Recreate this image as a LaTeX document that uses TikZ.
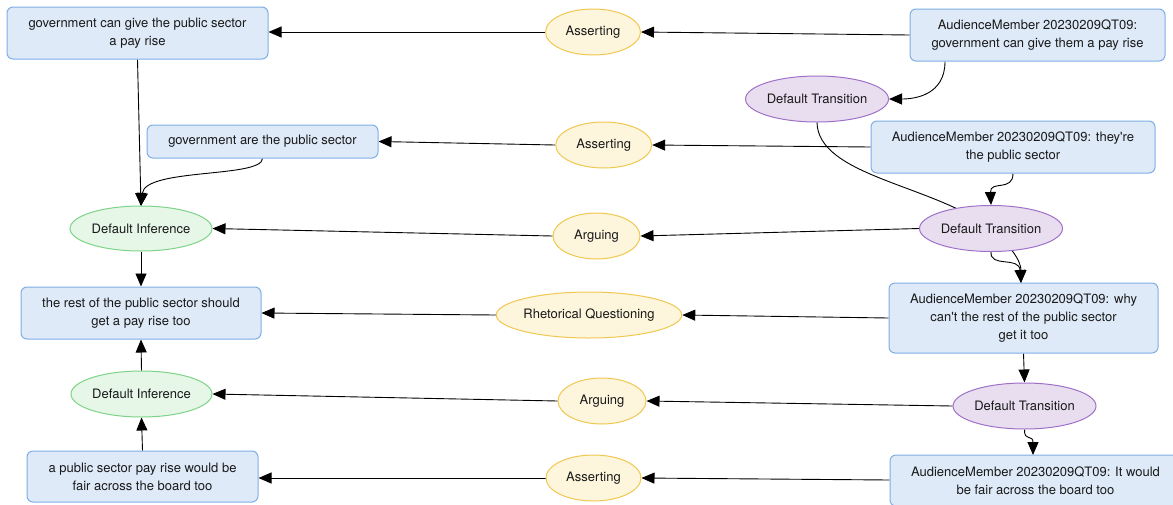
\documentclass[tikz,border=0pt]{standalone}
\usepackage{fontspec}
\setmainfont{TeX Gyre Heros}
\usetikzlibrary{shapes.geometric,arrows.meta}
\pgfdeclarelayer{bg}
\pgfsetlayers{bg,main}
\definecolor{bfill}{HTML}{DEEAF8}
\definecolor{bline}{HTML}{7EAEE5}
\definecolor{yfill}{HTML}{FDF5DC}
\definecolor{yline}{HTML}{F0C850}
\definecolor{gfill}{HTML}{E6F7E8}
\definecolor{gline}{HTML}{7DD387}
\definecolor{pfill}{HTML}{E8DEF0}
\definecolor{pline}{HTML}{A070C8}
\tikzset{
  every node/.style={font=\fontsize{13}{18}\selectfont, text=black!90, align=center, inner sep=0pt},
  ibox/.style={draw=bline, fill=bfill, rounded corners=6pt, line width=1pt, rectangle},
  ya/.style={draw=yline, fill=yfill, ellipse, line width=1pt},
  ra/.style={draw=gline, fill=gfill, ellipse, line width=1pt},
  ta/.style={draw=pline, fill=pfill, ellipse, line width=1pt},
  edge/.style={draw=black, line width=0.9pt, -{Triangle[length=13pt,width=11pt]}},
}
\begin{document}
\begin{tikzpicture}[x=1pt,y=-1pt]
\useasboundingbox (0,0) rectangle (1173,504);
\clip (0,0) rectangle (1173,504);
% I-nodes
\node[ibox, minimum width=261pt, minimum height=52pt] (I1) at (137.5,33) {government can give the public sector\\a pay rise};
\node[ibox, minimum width=231pt, minimum height=33pt] (I2) at (262.5,141.5) {government are the public sector};
\node[ibox, minimum width=240pt, minimum height=52pt] (I3) at (141,313) {the rest of the public sector should\\get a pay rise too};
\node[ibox, minimum width=231pt, minimum height=51pt] (I4) at (142.5,476.5) {a public sector pay rise would be\\fair across the board too};
% L-nodes
\node[ibox, minimum width=255pt, minimum height=52pt] (L1) at (1037.5,35) {AudienceMember 20230209QT09:\\government can give them a pay rise};
\node[ibox, minimum width=284pt, minimum height=52pt] (L2) at (1013,147) {AudienceMember 20230209QT09: they\textquotesingle re\\the public sector};
\node[ibox, minimum width=269pt, minimum height=70pt] (L3) at (1023.5,318) {AudienceMember 20230209QT09: why\\can\textquotesingle t the rest of the public sector\\get it too};
\node[ibox, minimum width=291pt, minimum height=51pt] (L4) at (1035.5,480.5) {AudienceMember 20230209QT09: It would\\be fair across the board too};
% YA nodes
\node[ya, minimum width=95pt, minimum height=46pt] (YA1) at (593,32) {Asserting};
\node[ya, minimum width=96pt, minimum height=46pt] (YA2) at (603.7,145) {Asserting};
\node[ya, minimum width=174pt, minimum height=46pt] (RQ) at (589,315) {Rhetorical Questioning};
\node[ya, minimum width=95pt, minimum height=46pt] (YA3) at (593.5,478) {Asserting};
\node[ya, minimum width=87pt, minimum height=46pt] (AR1) at (596.5,236) {Arguing};
\node[ya, minimum width=88pt, minimum height=46pt] (AR2) at (602,401) {Arguing};
% RA nodes
\node[ra, minimum width=142pt, minimum height=45pt] (DI1) at (141,228.5) {Default Inference};
\node[ra, minimum width=141pt, minimum height=46pt] (DI2) at (141.5,394) {Default Inference};
% TA nodes
\node[ta, minimum width=143pt, minimum height=46pt] (DT1) at (817,99) {Default Transition};
\node[ta, minimum width=143pt, minimum height=46pt] (DT2) at (991,228.5) {Default Transition};
\node[ta, minimum width=143pt, minimum height=46pt] (DT3) at (1024.5,406) {Default Transition};
% connector end points
\coordinate (DI1top) at (141,206);
\coordinate (L3top) at (1021,283);
\coordinate (L4top) at (1033,455);
\begin{pgfonlayer}{bg}
% top row
\draw[edge] (L1.west) -- (YA1.east);
\draw[edge] (YA1.west) -- (I1.east |- YA1.west);
\draw[edge] (L1.south -| 945,0) .. controls (945,95) and (915,99) .. (DT1.east);
\draw[edge] (DT1.south) .. controls (818,175) and (930,185) .. (985,225) .. controls (1012,245) and (1021,262) .. (L3top);
% second row
\draw[edge] (L2.west) -- (YA2.east);
\draw[edge] (YA2.west) -- (I2.east);
\draw[edge] (L2.south) .. controls (1013,192) and (990,180) .. (DT2.north);
\draw[edge] (DT2.south) .. controls (990,268) and (1019,256) .. (L3top);
\draw[edge] (I1.south -| 137.5,0) -- (DI1top);
\draw[edge] (I2.south) .. controls (262,178) and (145,168) .. (DI1top);
% third row
\draw[edge] (DT2.west) -- (AR1.east);
\draw[edge] (AR1.west) -- (DI1.east);
\draw[edge] (DI1.south) -- (I3.north);
\draw[edge] (L3.west) -- (RQ.east);
\draw[edge] (RQ.west) -- (I3.east);
% fourth row
\draw[edge] (L3.south) -- (DT3.north);
\draw[edge] (DT3.west) -- (AR2.east);
\draw[edge] (AR2.west) -- (DI2.east);
\draw[edge] (DI2.north) -- (I3.south);
\draw[edge] (I4.north) -- (DI2.south);
\draw[edge] (DT3.south) .. controls (1024,442) and (1033,434) .. (L4top);
% bottom row
\draw[edge] (L4.west |- 0,480) -- (YA3.east);
\draw[edge] (YA3.west) -- (I4.east |- YA3.west);
\end{pgfonlayer}
\end{tikzpicture}
\end{document}
